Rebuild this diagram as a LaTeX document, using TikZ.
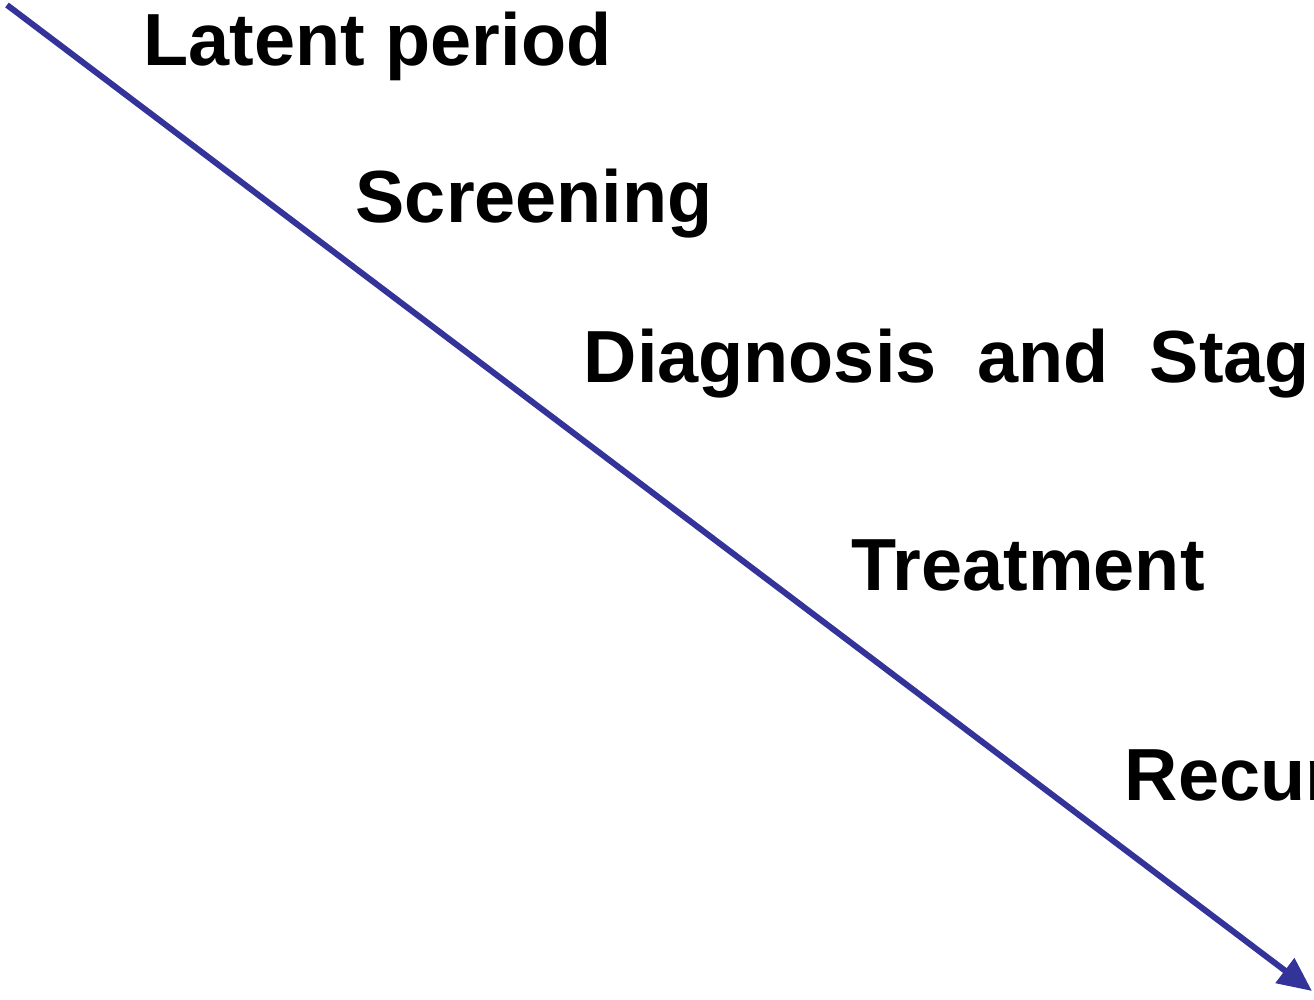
\documentclass[tikz,border=0pt]{standalone}
\usepackage{fontspec}
\setmainfont{Liberation Sans}
\usetikzlibrary{arrows.meta,positioning}
\definecolor{linkblue}{RGB}{51,51,153}
\tikzset{
    %Define standard arrow tip
    >={Triangle[length=0.34cm,width=0.3cm]},
    %Define style for phase labels
    phase/.style={
           anchor=base west,
           inner sep=0pt,
           font=\fontsize{21pt}{25pt}\selectfont\bfseries,
           text=black},
    % Define arrow style
    pil/.style={
           ->,
           draw=linkblue,
           line width=1.7pt}
}

\begin{document}
\begin{tikzpicture}[x=0.01cm,y=-0.01cm]
\useasboundingbox (0,0) rectangle (1314,1000);
 %nodes
\node[phase](latent) at (143,65){Latent period};
\node[phase](screen) at (355,222){Screening};
\node[phase](diag) at (583,383){Diagnosis\ \ and\ \ Stag};
\node[phase](treat) at (851,590){Treatment};
\node[phase](recur) at (1124,800){Recur};
\coordinate (start) at (7,5);
\coordinate (finish) at (1312,991);
 %arrow
\draw[pil] (start) -- (finish);
\end{tikzpicture}
\end{document}
